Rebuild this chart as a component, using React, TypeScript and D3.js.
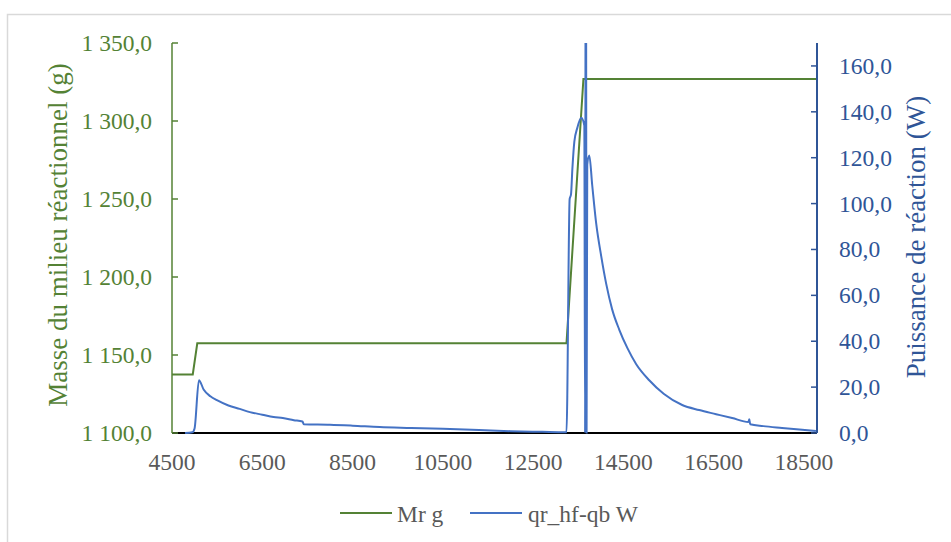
import React from "react";
import * as d3 from "d3";

// Mr g (left axis, grams)
const massTime = [4500, 4960, 5060, 13240, 13615, 18790];
const massValues = [1137.5, 1137.5, 1157.5, 1157.5, 1327, 1327];

// qr_hf-qb W (right axis, watts)
const powerTime = [
  4790, 4950, 5000, 5097, 5200, 5350, 5495, 5750, 6000, 6225, 6500, 6750, 6955,
  7200, 7390, 7420, 8000, 8500, 9100, 9800, 10500, 11300, 12000, 12700, 13200,
  13240, 13310, 13340, 13370, 13414, 13480, 13568, 13635, 13652, 13668, 13685,
  13700, 13745, 13810, 13900, 14010, 14120, 14250, 14410, 14590, 14785, 15073,
  15400, 15803, 16180, 16555, 16910, 17270, 17290, 17310, 17600, 18015, 18400, 18766,
];
const powerValues = [
  0, 0.3, 2, 23, 19, 16, 14.3, 12, 10.5, 9.1, 8, 7, 6.5,
  5.6, 5.0, 3.8, 3.6, 3.2, 2.6, 2.2, 1.8, 1.3, 0.8, 0.5, 0.3,
  0.3, 102, 104, 115, 127, 133, 137.4, 134, 0, 300, 0,
  117, 121, 108, 91, 77, 65, 54, 45, 37, 30, 23,
  17, 12.2, 10, 8.2, 6.5, 4.8, 6.0, 3.8, 3.0, 2.2, 1.5, 0.9,
];

const xTicks = [4500, 6500, 8500, 10500, 12500, 14500, 16500, 18500];
const leftTicks = [1100, 1150, 1200, 1250, 1300, 1350];
const rightTicks = [0, 20, 40, 60, 80, 100, 120, 140, 160];

const seriesNames = ["Mr g", "qr_hf-qb W"];
const leftTitle = "Masse du milieu réactionnel (g)";
const rightTitle = "Puissance de réaction (W)";

const W = 951;
const H = 542;
const plot = { left: 172, right: 817, top: 43, bottom: 433 };
const GREEN = "#548235";
const BLUE = "#4472C4";
const DARKBLUE = "#2F5597";
const GREY = "#595959";
const SERIF = "Liberation Serif";

const fmt = (v: number) => {
  const s = v.toFixed(1).replace(".", ",");
  const [i, d] = s.split(",");
  const grouped = i.replace(/\B(?=(\d{3})+(?!\d))/g, " ");
  return grouped + "," + d;
};

const ts = { fontFamily: SERIF, fontSize: "23.5px" };
const tt = { fontFamily: SERIF, fontSize: "27px" };

export default function App() {
  const x = d3.scaleLinear().domain([4500, 18790]).range([plot.left, plot.right]);
  const yL = d3.scaleLinear().domain([1100, 1350]).range([plot.bottom, plot.top]);
  const yR = d3.scaleLinear().domain([0, 170]).range([plot.bottom, plot.top]);

  const massData = massTime.map((t, i) => [t, massValues[i]] as [number, number]);
  const powerData = powerTime.map((t, i) => [t, powerValues[i]] as [number, number]);

  const massLine = d3
    .line<[number, number]>()
    .x((d) => x(d[0]))
    .y((d) => yL(d[1]));
  const powerLine = d3
    .line<[number, number]>()
    .curve(d3.curveMonotoneX)
    .x((d) => x(d[0]))
    .y((d) => yR(d[1]));

  return (
    <svg
      width={W}
      height={H}
      style={{ position: "absolute", left: 0, top: 0, background: "#fff", fontFamily: SERIF }}
    >
      <style>{`text { font-family: "Liberation Serif", "Times New Roman", serif; }`}</style>
      <rect x={7.5} y={14.5} width={W} height={H} fill="#fff" stroke="#d9d9d9" strokeWidth={1.5} />
      <defs>
        <clipPath id="plotClip">
          <rect
            x={plot.left}
            y={plot.top}
            width={plot.right - plot.left + 2}
            height={plot.bottom - plot.top + 1}
          />
        </clipPath>
      </defs>

      {/* x axis baseline */}
      <line x1={plot.left} x2={plot.right} y1={plot.bottom} y2={plot.bottom} stroke="#000" strokeWidth={2} />

      {/* series */}
      <g clipPath="url(#plotClip)">
        <path d={massLine(massData) || ""} fill="none" stroke={GREEN} strokeWidth={2} />
        <path d={powerLine(powerData) || ""} fill="none" stroke={BLUE} strokeWidth={2} strokeLinejoin="round" />
      </g>

      {/* left axis */}
      <line x1={plot.left} x2={plot.left} y1={plot.top} y2={plot.bottom} stroke={GREEN} strokeWidth={1.5} />
      {leftTicks.map((t) => (
        <g key={"l" + t}>
          <line x1={plot.left} x2={plot.left + 6} y1={yL(t)} y2={yL(t)} stroke={GREEN} strokeWidth={1.5} />
          <text x={plot.left - 20} y={yL(t) + 8} textAnchor="end" fontFamily={SERIF} style={ts} fill={GREEN}>
            {fmt(t)}
          </text>
        </g>
      ))}

      {/* right axis */}
      <line x1={plot.right} x2={plot.right} y1={plot.top} y2={plot.bottom} stroke={DARKBLUE} strokeWidth={2} />
      {rightTicks.map((t) => (
        <g key={"r" + t}>
          <line x1={plot.right - 6} x2={plot.right} y1={yR(t)} y2={yR(t)} stroke={DARKBLUE} strokeWidth={1.5} />
          <text x={plot.right + 22} y={yR(t) + 8} textAnchor="start" fontFamily={SERIF} style={ts} fill={DARKBLUE}>
            {fmt(t)}
          </text>
        </g>
      ))}

      {/* x tick labels */}
      {xTicks.map((t) => (
        <text key={"x" + t} x={x(t)} y={470} textAnchor="middle" fontFamily={SERIF} style={ts} fill={GREY}>
          {t}
        </text>
      ))}

      {/* axis titles */}
      <text transform={`translate(67,235) rotate(-90)`} textAnchor="middle" fontFamily={SERIF} style={tt} fill={GREEN}>
        {leftTitle}
      </text>
      <text transform={`translate(925,237) rotate(-90)`} textAnchor="middle" fontFamily={SERIF} style={tt} fill={DARKBLUE}>
        {rightTitle}
      </text>

      {/* legend */}
      <line x1={340} x2={392} y1={513} y2={513} stroke={GREEN} strokeWidth={2} />
      <text x={397} y={522} fontFamily={SERIF} style={ts} fill={GREY}>
        {seriesNames[0]}
      </text>
      <line x1={470} x2={522} y1={513} y2={513} stroke={BLUE} strokeWidth={2} />
      <text x={528} y={522} fontFamily={SERIF} style={ts} fill={GREY}>
        {seriesNames[1]}
      </text>
    </svg>
  );
}
